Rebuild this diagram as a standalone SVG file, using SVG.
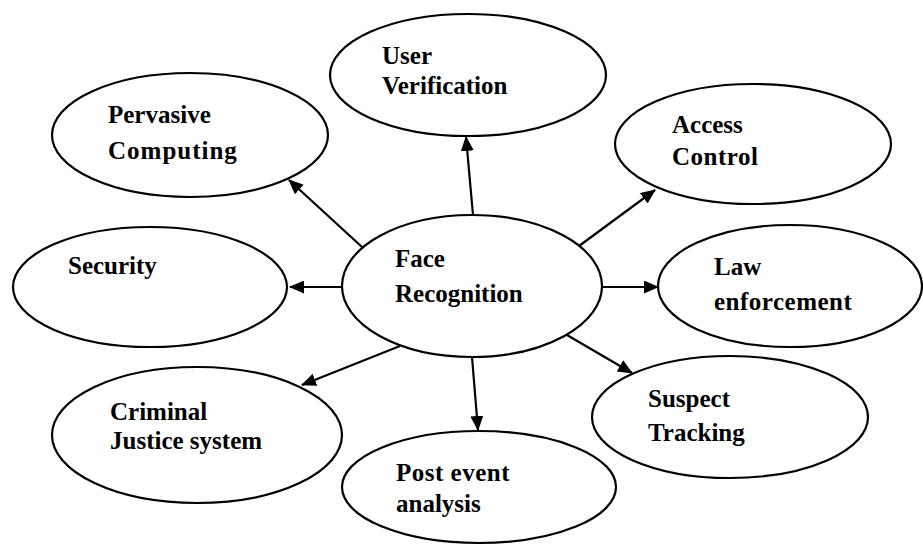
<svg xmlns="http://www.w3.org/2000/svg" width="923" height="547" viewBox="0 0 923 547">
  <style>
    .node ellipse { fill: #ffffff; stroke: #000000; stroke-width: 2.2; }
    .node text { font-family: 'Liberation Serif', 'Times New Roman', 'DejaVu Serif', serif; font-weight: 700; font-size: 25px; fill: #000000; }
    .edge { stroke: #000000; stroke-width: 2.2; fill: none; marker-end: url(#head); }
  </style>
  <defs>
    <marker id="head" markerWidth="15" markerHeight="13" refX="14" refY="6.5" orient="auto" markerUnits="userSpaceOnUse">
      <path d="M0,0 L15,6.5 L0,13 Z" fill="#000000"/>
    </marker>
  </defs>
  <rect width="923" height="547" fill="#ffffff"/>

  <!-- connectors from the hub outward -->
  <g id="connectors">
    <line class="edge" x1="473" y1="215" x2="466" y2="137"/>
    <line class="edge" x1="362" y1="247" x2="289" y2="180"/>
    <line class="edge" x1="579" y1="246" x2="655" y2="190"/>
    <line class="edge" x1="603" y1="287" x2="658" y2="287"/>
    <line class="edge" x1="342" y1="287" x2="290" y2="287"/>
    <line class="edge" x1="400" y1="346" x2="302" y2="385"/>
    <line class="edge" x1="472" y1="357" x2="478" y2="430"/>
    <line class="edge" x1="567" y1="335" x2="632" y2="373"/>
  </g>

  <g id="face-recognition" class="node" font-family="Liberation Serif, serif">
    <ellipse cx="472" cy="286" rx="130" ry="71"/>
    <text x="395" y="267">Face</text>
    <text x="395" y="302">Recognition</text>
  </g>

  <g id="user-verification" class="node">
    <ellipse cx="468" cy="75" rx="138" ry="61"/>
    <text x="382" y="64">User</text>
    <text x="382" y="94">Verification</text>
  </g>

  <g id="pervasive-computing" class="node">
    <ellipse cx="190" cy="135" rx="138" ry="62"/>
    <text x="108" y="123">Pervasive</text>
    <text x="108" y="159" letter-spacing="1">Computing</text>
  </g>

  <g id="access-control" class="node">
    <ellipse cx="753" cy="144" rx="138" ry="60"/>
    <text x="672" y="133">Access</text>
    <text x="672" y="165" letter-spacing="0.5">Control</text>
  </g>

  <g id="law-enforcement" class="node">
    <ellipse cx="790" cy="286" rx="132" ry="61"/>
    <text x="714" y="275">Law</text>
    <text x="714" y="310" letter-spacing="0.5">enforcement</text>
  </g>

  <g id="security" class="node">
    <ellipse cx="150" cy="287" rx="137" ry="60"/>
    <text x="68" y="274">Security</text>
  </g>

  <g id="criminal-justice" class="node">
    <ellipse cx="197" cy="435" rx="145" ry="68"/>
    <text x="110" y="420">Criminal</text>
    <text x="110" y="449">Justice system</text>
  </g>

  <g id="post-event-analysis" class="node">
    <ellipse cx="479" cy="487" rx="137" ry="56"/>
    <text x="396" y="481" letter-spacing="0.5">Post event</text>
    <text x="396" y="512">analysis</text>
  </g>

  <g id="suspect-tracking" class="node">
    <ellipse cx="730" cy="417" rx="138" ry="61"/>
    <text x="648" y="407">Suspect</text>
    <text x="648" y="441">Tracking</text>
  </g>
</svg>
